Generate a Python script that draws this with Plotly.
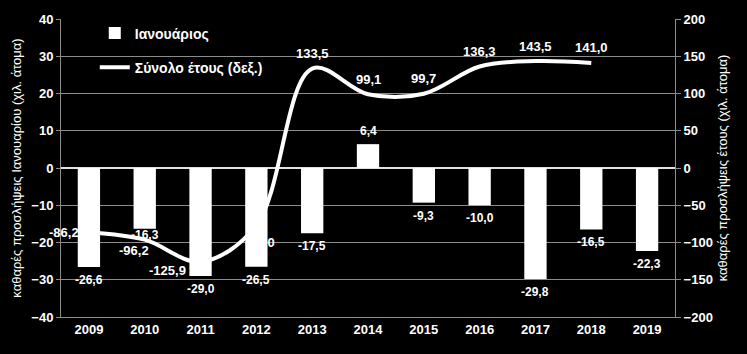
import plotly.graph_objects as go

years = ["2009", "2010", "2011", "2012", "2013", "2014", "2015", "2016", "2017", "2018", "2019"]
january = [-26.6, -16.3, -29.0, -26.5, -17.5, 6.4, -9.3, -10.0, -29.8, -16.5, -22.3]
annual_years = ["2009", "2010", "2011", "2012", "2013", "2014", "2015", "2016", "2017", "2018"]
annual = [-86.2, -96.2, -125.9, -77.0, 133.5, 99.1, 99.7, 136.3, 143.5, 141.0]

left_title = "καθαρές προσλήψεις Ιανουαρίου (χιλ. άτομα)"
right_title = "καθαρές προσλήψεις έτους (χιλ. άτομα)"

# label placement offsets (px) — styling only
line_label_shift = [(-25, 0), (-11, -11), (-33, -9), (4, -17), (0, 15), (0, 15), (0, 15), (0, 15), (0, 15), (0, 15)]

FONT = "Liberation Sans, Arial, sans-serif"
GRID = "#8c8c8c"

def fmt(v):
    return f"{v:.1f}".replace(".", ",")

fig = go.Figure()
fig.add_trace(go.Bar(
    x=years, y=january, name="Ιανουάριος",
    marker=dict(color="white", line=dict(width=0)),
    width=0.4, yaxis="y", legendgroup="a",
))
fig.add_trace(go.Scatter(
    x=annual_years, y=annual, name="Σύνολο έτους (δεξ.)",
    mode="lines", line=dict(color="white", width=4, shape="spline", smoothing=1.0),
    yaxis="y2", legendgroup="b",
))

annotations = []
for i, v in enumerate(january):
    ys = 13 if v > 0 else -13
    if years[i] == "2010":
        ys = -6
    annotations.append(dict(x=i, y=v, xref="x", yref="y", text=fmt(v), showarrow=False,
                            yshift=ys, font=dict(family=FONT, size=12, color="white", weight="bold")))
for i, (v, (dx, dy)) in enumerate(zip(annual, line_label_shift)):
    annotations.append(dict(x=years.index(annual_years[i]), y=v, xref="x", yref="y2", text=fmt(v),
                            showarrow=False, xshift=dx, yshift=dy,
                            font=dict(family=FONT, size=13, color="white", weight="bold")))

fig.update_layout(
    width=747, height=354,
    margin=dict(l=61, r=72, t=17, b=37),
    paper_bgcolor="black", plot_bgcolor="black",
    font=dict(family=FONT, color="white"),
    bargap=0.6,
    showlegend=True,
    legend=dict(x=0.055, y=1.005, xanchor="left", yanchor="top",
                bgcolor="rgba(0,0,0,0)", traceorder="grouped", tracegroupgap=13,
                font=dict(family=FONT, size=14, color="white", weight="bold")),
    xaxis=dict(type="category", range=[-0.5, len(years) - 0.5], autorange=False,
               categoryorder="array", categoryarray=years,
               showgrid=False, showline=True, linecolor=GRID, linewidth=1,
               ticks="", tickfont=dict(family=FONT, size=13, color="white", weight="bold")),
    yaxis=dict(range=[-40, 40], dtick=10, showgrid=True, gridcolor=GRID, gridwidth=1,
               zeroline=True, zerolinecolor="#e0e0e0", zerolinewidth=2,
               showline=True, linecolor=GRID, linewidth=1, ticks="outside", ticklen=4, tickcolor=GRID,
               tickfont=dict(family=FONT, size=13, color="white", weight="bold"),
               title=dict(text=left_title, font=dict(family=FONT, size=13, color="white"), standoff=6)),
    yaxis2=dict(range=[-200, 200], dtick=50, overlaying="y", side="right", showgrid=False,
                zeroline=False, showline=True, linecolor=GRID, linewidth=1,
                ticks="outside", ticklen=5, tickcolor=GRID,
                tickfont=dict(family=FONT, size=13, color="white", weight="bold"),
                title=dict(text=right_title, font=dict(family=FONT, size=13, color="white"), standoff=6)),
    annotations=annotations,
)

fig.write_html("out.html")
